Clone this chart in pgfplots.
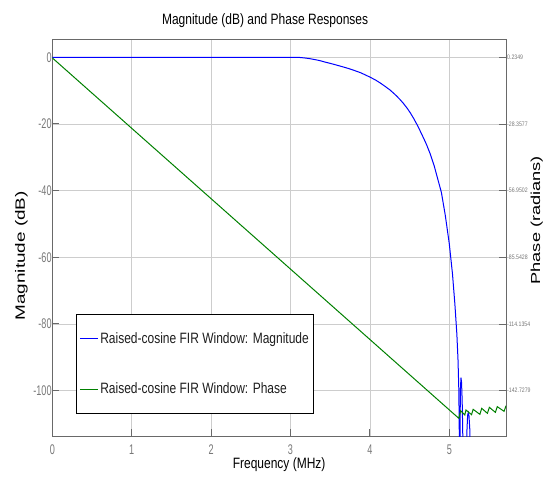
\documentclass[border=0pt]{standalone}
\usepackage{fontspec}
\setmainfont{Liberation Sans}
\newfontfamily\narrowf{Liberation Sans}[FakeStretch=0.8]
\newfontfamily\tickf{Liberation Sans}[FakeStretch=0.65]
\newfontfamily\rtickf{Liberation Sans}[FakeStretch=0.8]
\newfontfamily\widef{Liberation Sans}[FakeStretch=1.4]
\usepackage{pgfplots}
\pgfplotsset{compat=1.18}
\definecolor{mgreen}{RGB}{0,128,0}
\definecolor{gridc}{RGB}{205,205,205}
\definecolor{axc}{RGB}{105,105,105}
\definecolor{tickc}{RGB}{120,120,120}
\definecolor{legtext}{RGB}{30,30,30}
\begin{document}
\begin{tikzpicture}
\begin{axis}[
  width=453.7pt, height=396pt, scale only axis,
  xmin=0, xmax=5.714, ymin=-113.6, ymax=5.19,
  xtick={0,1,2,3,4,5}, ytick={-100,-80,-60,-40,-20,0},
  grid=major, major grid style={gridc, line width=0.8pt},
  axis line style={axc, line width=1pt},
  tick style={axc, line width=1pt}, major tick length=7pt, tick align=inside,
  xtick pos=bottom, ytick pos=left,
  /pgf/number format/assume math mode=true,
  ticklabel style={font=\tickf\fontsize{14}{16}\selectfont, text=tickc},
  xticklabel style={anchor=center, inner sep=0pt, yshift=-13.5pt},
  yticklabel style={anchor=east, inner xsep=0.5pt},
  title={Magnitude (dB) and Phase Responses},
  title style={font=\narrowf\fontsize{15}{18}\selectfont, at={(0.469,1)}, anchor=center, yshift=13pt},
  xlabel={Frequency (MHz)},
  xlabel style={font=\narrowf\fontsize{15}{18}\selectfont, at={(0.5,0)}, anchor=center, inner sep=0pt, yshift=-29pt},
  ylabel={Magnitude (dB)},
  ylabel style={font=\widef\fontsize{13.5}{16}\selectfont, at={(-0.068,0.455)}, anchor=center},
  legend style={at={(0.0516,0.308)}, anchor=north west, draw=black, line width=1.2pt,
    font=\narrowf\fontsize{15}{18}\selectfont,
    row sep=34pt, inner ysep=16pt, inner xsep=3pt,
    /tikz/every even column/.append style={column sep=0pt}},
  legend cell align=left,
  legend image code/.code={\draw[#1, line width=1pt] (0pt,0pt) -- (18pt,0pt);},
]
\coordinate (sw) at (rel axis cs:0,0);
\addplot[draw=blue, line width=1pt] coordinates {
(0,0) (3.0,0) (3.06,-0.01) (3.12,-0.06) (3.18,-0.2) (3.246,-0.42) (3.31,-0.7)
(3.37,-1.0) (3.43,-1.4) (3.497,-1.8) (3.56,-2.2) (3.62,-2.6) (3.68,-3.0)
(3.749,-3.5) (3.81,-4.0) (3.88,-4.6) (3.94,-5.25) (4.005,-6.0) (4.07,-6.8)
(4.13,-7.7) (4.19,-8.7) (4.253,-9.8) (4.30,-10.8) (4.34,-11.7) (4.38,-12.7)
(4.421,-13.8) (4.47,-15.3) (4.51,-16.7) (4.55,-18.3) (4.589,-20.0) (4.625,-21.7)
(4.655,-23.2) (4.685,-24.7) (4.715,-26.3) (4.76,-29.0) (4.81,-32.6) (4.86,-37.0)
(4.90,-40.5) (4.95,-47.5) (5.0,-56) (5.04,-65) (5.07,-74) (5.095,-83) (5.11,-91)
(5.12,-100) (5.126,-113.6) (5.128,-135)
(5.131,-135) (5.136,-108) (5.141,-99) (5.147,-96.1) (5.154,-97.5) (5.162,-103) (5.169,-112) (5.175,-135)
(5.212,-135) (5.222,-112) (5.231,-107.3) (5.239,-106.6) (5.248,-107.6) (5.259,-112) (5.27,-135)
(5.714,-135)
};
\addlegendentry{\color{legtext}Raised-cosine FIR Window: Magnitude}
\addlegendimage{legend image code/.code={\draw[draw=mgreen, line width=1pt] (0pt,0pt) -- (18pt,0pt);}}
\addlegendentry{\color{legtext}Raised-cosine FIR Window: Phase}
\end{axis}
\begin{axis}[
  width=453.7pt, height=396pt, scale only axis,
  xmin=0, xmax=5.714, ymin=-162.17, ymax=7.67,
  axis x line=none, axis y line*=right,
  axis line style={axc, line width=1pt},
  tick style={axc, line width=1pt}, major tick length=7pt, tick align=inside,
  ytick={-142.7279,-114.1354,-85.5428,-56.9502,-28.3577,0.2349},
  yticklabels={-142.7279,-114.1354,-85.5428,-56.9502,-28.3577,0.2349},
  ticklabel style={font=\rtickf\fontsize{6.5}{8}\selectfont, text=tickc},
  yticklabel style={anchor=west, inner xsep=1pt},
  ylabel={Phase (radians)},
  ylabel style={font=\widef\fontsize{13}{16}\selectfont, at={(1.068,0.545)}, anchor=center, rotate=0},
]
\addplot[draw=mgreen, line width=1pt] coordinates {
(0,0) (5.12,-154.6)
(5.143,-151.30) (5.195,-153.16) (5.21,-151.02) (5.28,-153.02) (5.30,-150.73)
(5.385,-152.88) (5.408,-150.31) (5.48,-152.45) (5.504,-149.88) (5.58,-152.02)
(5.604,-149.59) (5.69,-151.59) (5.714,-149.16)
};
\end{axis}
\pgfresetboundingbox
\path[use as bounding box] (sw) ++(-52.3pt,-47pt) rectangle ++(549pt,483pt);
\end{tikzpicture}
\end{document}
